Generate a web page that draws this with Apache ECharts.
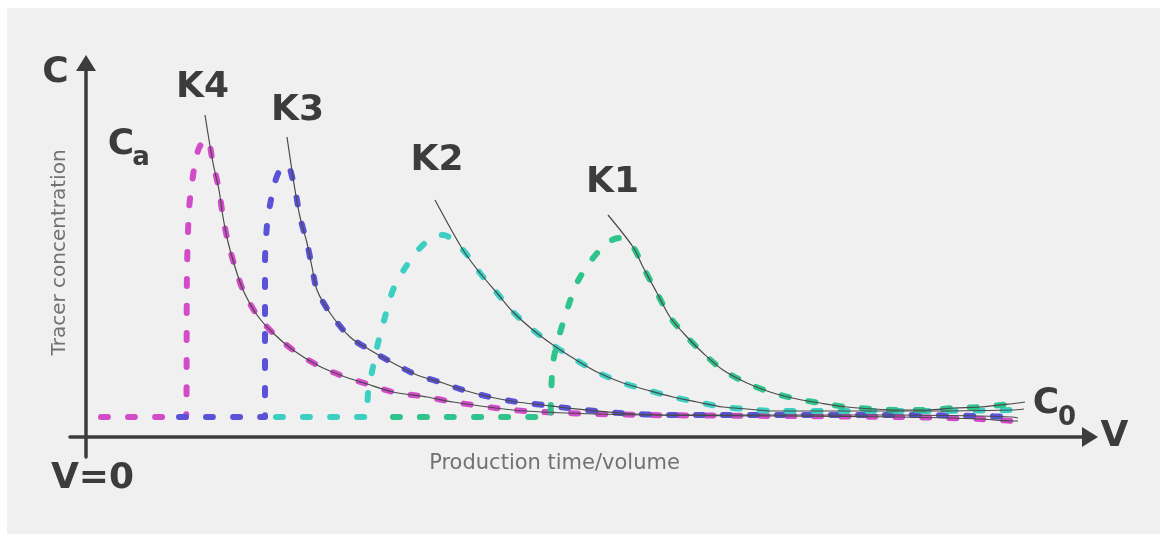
<!DOCTYPE html>
<html>
<head>
<meta charset="utf-8">
<script src="https://cdn.jsdelivr.net/npm/echarts@6/dist/echarts.min.js"></script>
<style>
html,body{margin:0;padding:0;background:#ffffff;}
#chart{width:1167px;height:534px;}
</style>
</head>
<body>
<div id="chart"></div>
<script>
// Volume (V) and tracer concentration (C) readings, arbitrary units
const k4Rise = [[1.5,2.0],[10.0,2.0],[10.1,16.7],[10.3,22.7],[10.6,25.4],[11.0,27.9],[11.4,29.1],[12.1,29.8]];
const k4Decay = [[12.7,27.4],[13.3,24.7],[13.7,22.0],[14.2,19.5],[14.9,17.0],[15.7,14.7],[17.1,12.2],[18.7,10.4],[20.7,8.7],[23.1,7.2],[25.4,6.2],[28.1,5.3],[30.7,4.5],[34.1,4.0],[36.7,3.5],[42.7,2.7],[48.1,2.4],[56.1,2.2],[69.4,2.1],[81.4,2.0],[89.4,1.8],[92.6,1.6]];
const k3Rise = [[9.3,2.0],[17.9,2.0],[17.9,17.4],[18.1,21.2],[18.4,23.2],[18.9,25.5],[19.4,26.7],[20.1,27.2]];
const k3Decay = [[20.9,24.7],[21.4,22.0],[22.1,19.4],[22.6,17.0],[23.1,14.7],[24.4,12.4],[26.4,10.0],[28.4,8.7],[30.7,7.4],[33.1,6.2],[35.7,5.4],[37.7,4.7],[40.4,4.0],[43.1,3.5],[45.7,3.2],[48.1,2.9],[53.4,2.4],[58.7,2.2],[69.4,2.2],[81.4,2.2],[89.4,2.1],[92.6,2.0]];
const k2Rise = [[19.0,2.0],[28.1,2.0],[28.2,4.4],[28.7,7.0],[29.2,9.4],[29.9,12.0],[30.7,14.7],[31.9,16.9],[33.4,18.9],[34.6,19.9],[35.7,20.2]];
const k2Decay = [[37.7,18.7],[39.4,16.4],[41.1,14.4],[42.7,12.5],[44.7,10.7],[46.7,9.2],[48.7,7.9],[51.1,6.5],[53.7,5.4],[56.1,4.7],[58.7,4.0],[61.1,3.5],[63.7,3.0],[66.1,2.8],[68.7,2.6],[76.4,2.6],[84.4,2.6],[92.6,2.7]];
const k1Rise = [[30.7,2.0],[46.4,2.0],[46.5,4.2],[46.7,7.4],[47.2,9.7],[48.1,12.7],[49.1,15.4],[50.4,17.5],[52.1,19.4],[53.3,19.9]];
const k1Decay = [[54.7,19.0],[55.7,17.0],[57.1,14.4],[58.4,12.0],[60.1,10.0],[61.7,8.4],[63.7,6.7],[66.1,5.4],[68.4,4.5],[71.1,3.8],[73.4,3.4],[76.1,3.0],[78.8,2.8],[81.4,2.7],[84.1,2.7],[86.8,2.9],[89.4,3.0],[92.4,3.3]];
// thin fitted decline lines: start and end points
const fitStart = {K4:[11.9,32.2], K3:[20.1,30.0], K2:[34.9,23.7], K1:[52.2,22.2]};
const fitEnd   = {K4:[93.2,1.6],  K3:[93.2,1.9],  K2:[93.8,2.8],  K1:[93.9,3.5]};
const curveNames = ['K4','K3','K2','K1'];
const curveColors = ['#d24bc8','#5a53d8','#3dcfc2','#2fc48c'];

const rises = [k4Rise,k3Rise,k2Rise,k1Rise];
const decays = [k4Decay,k3Decay,k2Decay,k1Decay];

const chart = echarts.init(document.getElementById('chart'), null, {renderer:'canvas'});

const series = [];
curveNames.forEach((n,i)=>{
  series.push({
    name:n, type:'line', data:rises[i].concat(decays[i]), smooth:0.3, showSymbol:false, symbol:'none',
    lineStyle:{color:curveColors[i], width:6, type:[7,20], cap:'round', join:'round'}, z:2, silent:true
  });
});
curveNames.forEach((n,i)=>{
  series.push({
    name:n+' fit', type:'line', data:[fitStart[n]].concat(decays[i]).concat([fitEnd[n]]), smooth:0.3, symbol:'none',
    lineStyle:{color:'#4a4a4a', width:1.2}, z:3, silent:true
  });
});

const axisColor = '#3c3c3c';
const boldFont = 'bold 36px "DejaVu Sans"';
const txt = (text,x,y,font,fill,extra) => Object.assign({type:'text', x:x, y:y, z:10, style:{text:text, font:font, fill:fill||axisColor, align:'center', verticalAlign:'middle'}}, extra||{});

chart.setOption({
  animation:false,
  backgroundColor:'#ffffff',
  grid:{left:70, right:77, top:63, bottom:77},
  xAxis:{type:'value', min:-1.6, max:100.4,
    axisLine:{onZero:true, symbol:['none','triangle'], symbolSize:[20,16], lineStyle:{color:axisColor, width:3.5}},
    axisTick:{show:false}, axisLabel:{show:false}, splitLine:{show:false}},
  yAxis:{type:'value', min:-2.0, max:37.4,
    axisLine:{onZero:true, symbol:['none','triangle'], symbolSize:[20,16], lineStyle:{color:axisColor, width:3.5}},
    axisTick:{show:false}, axisLabel:{show:false}, splitLine:{show:false}},
  series:series,
  graphic:[
    {type:'rect', z:-100, shape:{x:7, y:8, width:1153, height:526}, style:{fill:'#f0f0f0'}},
    txt('C',55.5,73,boldFont),
    txt('K4',202.5,88,boldFont),
    txt('K3',297.5,111,boldFont),
    txt('K2',437,160.5,boldFont),
    txt('K1',612.5,183,boldFont),
    txt('C',121,144.5,boldFont),
    txt('a',141,158,'bold 26px "DejaVu Sans"'),
    txt('V=0',92.5,479,boldFont),
    txt('V',1114.5,436.5,boldFont),
    txt('C',1046,404,boldFont),
    txt('0',1067,418,'bold 26px "DejaVu Sans"'),
    txt('Production time/volume',554.5,464,'21px "DejaVu Sans"','#727272'),
    txt('Tracer concentration',60,252.5,'20px "DejaVu Sans"','#727272',{rotation:Math.PI/2})
  ]
});
</script>
</body>
</html>
